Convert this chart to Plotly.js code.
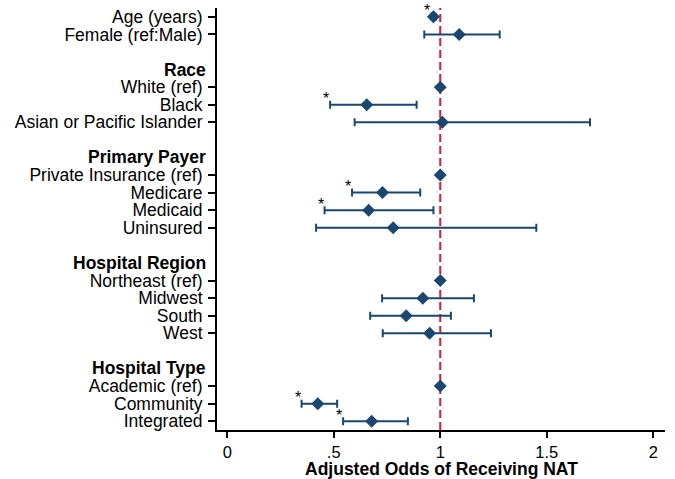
<!DOCTYPE html>
<html>
<head>
<meta charset="utf-8">
<script src="https://cdn.plot.ly/plotly-3.0.1.min.js"></script>
<style>html,body{margin:0;padding:0;background:#fff;}#chart{width:675px;height:479px;}</style>
</head>
<body>
<div id="chart"></div>
<script>
// Row labels (items) and their row positions (0 = top)
const labels = ["Age (years)", "Female (ref:Male)", "White (ref)", "Black", "Asian or Pacific Islander",
  "Private Insurance (ref)", "Medicare", "Medicaid", "Uninsured",
  "Northeast (ref)", "Midwest", "South", "West",
  "Academic (ref)", "Community", "Integrated"];
const rows = [0, 1, 4, 5, 6, 9, 10, 11, 12, 15, 16, 17, 18, 21, 22, 23];
const headers = ["Race", "Primary Payer", "Hospital Region", "Hospital Type"];
const headerRows = [3, 8, 14, 20];
// Adjusted odds ratios and 95% CI
const odds  = [0.968, 1.089, 1.0, 0.655, 1.01, 1.0, 0.729, 0.664, 0.779, 1.0, 0.918, 0.840, 0.950, 1.0, 0.425, 0.678];
const lower = [0.958, 0.925, null, 0.483, 0.598, null, 0.586, 0.457, 0.417, null, 0.727, 0.671, 0.730, null, 0.349, 0.544];
const upper = [0.978, 1.279, null, 0.889, 1.703, null, 0.906, 0.968, 1.451, null, 1.158, 1.050, 1.238, null, 0.516, 0.848];
const significant = [true, false, false, true, false, false, true, true, false, false, false, false, false, false, true, true];
const xTicks = [0, 0.5, 1, 1.5, 2];
const xTickText = ["0", ".5", "1", "1.5", "2"];

const navy = "#1a476f";
const FONT = "Liberation Sans, Arial, sans-serif";

const plus = odds.map((v, i) => upper[i] == null ? 0 : upper[i] - v);
const minus = odds.map((v, i) => lower[i] == null ? 0 : v - lower[i]);
const hasCI = lower.map(v => v != null);

const ciTrace = {
  type: "scatter", mode: "markers",
  x: odds.filter((v, i) => hasCI[i]), y: rows.filter((v, i) => hasCI[i]),
  marker: {symbol: "diamond", size: 10, color: navy, opacity: 1},
  error_x: {type: "data", symmetric: false,
    array: plus.filter((v, i) => hasCI[i]), arrayminus: minus.filter((v, i) => hasCI[i]),
    color: navy, thickness: 2, width: 4},
  hoverinfo: "skip", showlegend: false
};
const refTrace = {
  type: "scatter", mode: "markers",
  x: odds.filter((v, i) => !hasCI[i]), y: rows.filter((v, i) => !hasCI[i]),
  marker: {symbol: "diamond", size: 10, color: navy},
  hoverinfo: "skip", showlegend: false
};

const annotations = [];
headers.forEach((h, i) => {
  annotations.push({text: "<b>" + h + "</b>", xref: "paper", x: 0, xanchor: "right", xshift: -9,
    yref: "y", y: headerRows[i], yanchor: "middle", showarrow: false,
    font: {family: FONT, size: 17.5, color: "#000"}});
});
significant.forEach((s, i) => {
  if (!s) return;
  annotations.push({text: "*", xref: "x", x: lower[i], xanchor: "right", xshift: 1,
    yref: "y", y: rows[i], yanchor: "middle", yshift: 6, showarrow: false,
    font: {family: FONT, size: 16, color: "#000"}});
});
annotations.push({text: "<b>Adjusted Odds of Receiving NAT</b>", xref: "paper", x: 0.5, xanchor: "center",
  yref: "paper", y: 0, yanchor: "middle", yshift: -39, showarrow: false,
  font: {family: FONT, size: 17.5, color: "#000"}});

const layout = {
  width: 675, height: 479,
  margin: {l: 217, r: 10, t: 8, b: 49, pad: 0},
  paper_bgcolor: "#fff", plot_bgcolor: "#fff",
  font: {family: FONT, size: 17.5, color: "#000"},
  xaxis: {range: [-0.048, 2.055], tickvals: xTicks, ticktext: xTickText,
    showline: true, linecolor: "#000", linewidth: 2, ticks: "outside", ticklen: 6, tickwidth: 2, tickcolor: "#000",
    showgrid: false, zeroline: false, tickfont: {family: FONT, size: 16.5, color: "#000"}},
  yaxis: {range: [23.5, -0.5], tickvals: rows, ticktext: labels,
    showline: true, linecolor: "#000", linewidth: 2, ticks: "outside", ticklen: 7, tickwidth: 2, tickcolor: "#000",
    showgrid: false, zeroline: false, ticklabelstandoff: 2, tickfont: {family: FONT, size: 17.5, color: "#000"}},
  shapes: [{type: "line", xref: "x", x0: 1, x1: 1, yref: "paper", y0: 0, y1: 1,
    line: {color: "#e0182e", width: 2, dash: "8px,4px"}, layer: "below"}],
  annotations: annotations
};

Plotly.newPlot("chart", [ciTrace, refTrace], layout, {displayModeBar: false, staticPlot: true});
</script>
</body>
</html>
